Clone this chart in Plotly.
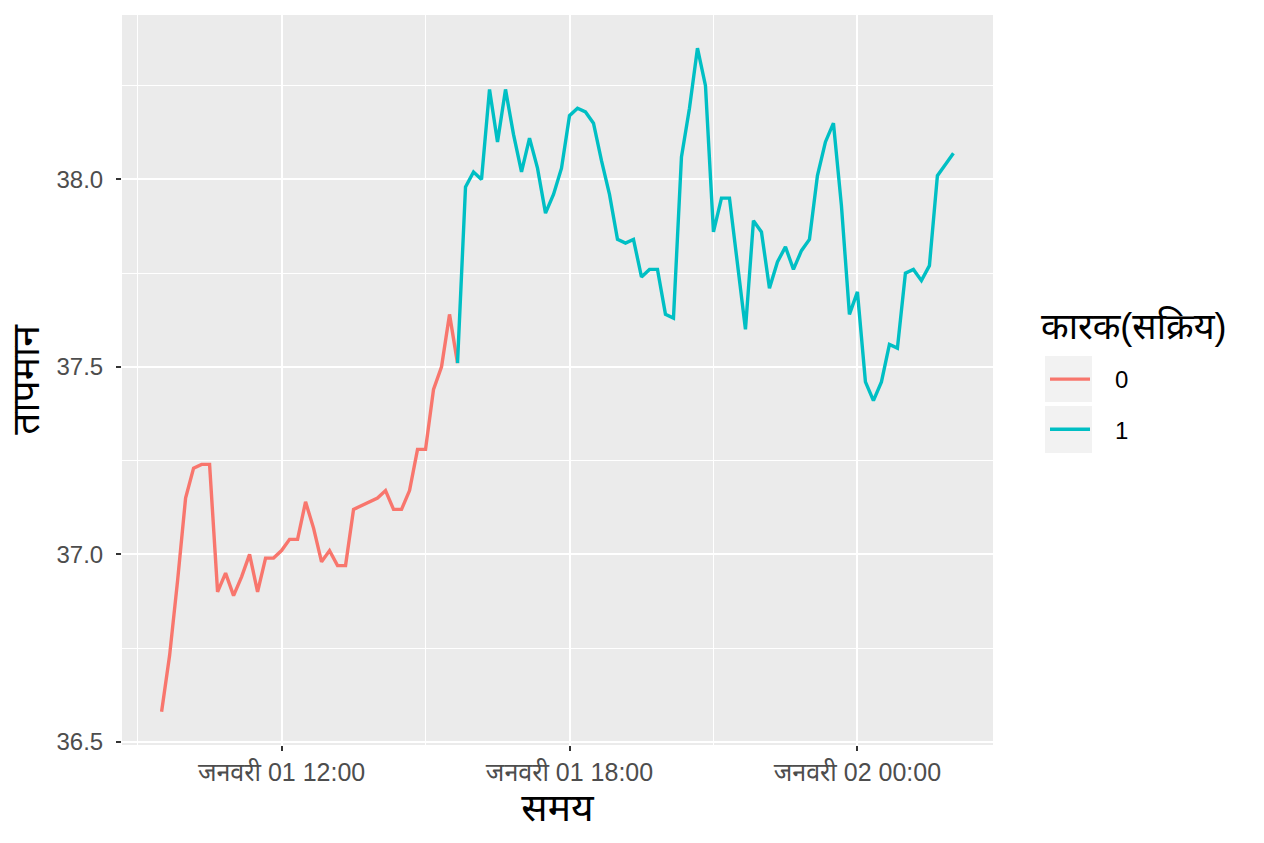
import pandas as pd
import plotly.graph_objects as go

# ---- data ----
start_time = "2024-01-01 09:30"
step = "10min"

# factor 0 (inactive): points 0..37
temp_0 = [36.58, 36.73, 36.93, 37.15, 37.23, 37.24, 37.24, 36.90, 36.95, 36.89,
          36.94, 37.00, 36.90, 36.99, 36.99, 37.01, 37.04, 37.04, 37.14, 37.07,
          36.98, 37.01, 36.97, 36.97, 37.12, 37.13, 37.14, 37.15, 37.17, 37.12,
          37.12, 37.17, 37.28, 37.28, 37.44, 37.50, 37.64, 37.51]
# factor 1 (active): points 37..99
temp_1 = [37.51, 37.98, 38.02, 38.00, 38.24, 38.10, 38.24, 38.12, 38.02, 38.11,
          38.03, 37.91, 37.96, 38.03, 38.17, 38.19, 38.18, 38.15, 38.05, 37.96,
          37.84, 37.83, 37.84, 37.74, 37.76, 37.76, 37.64, 37.63, 38.06, 38.19,
          38.35, 38.25, 37.86, 37.95, 37.95, 37.77, 37.60, 37.89, 37.86, 37.71,
          37.78, 37.82, 37.76, 37.81, 37.84, 38.01, 38.10, 38.15, 37.93, 37.64,
          37.70, 37.46, 37.41, 37.46, 37.56, 37.55, 37.75, 37.76, 37.73, 37.77,
          38.01, 38.04, 38.07]

x_tickvals = ["2024-01-01 12:00", "2024-01-01 18:00", "2024-01-02 00:00"]
x_ticktext = ["जनवरी 01 12:00", "जनवरी 01 18:00", "जनवरी 02 00:00"]
y_tickvals = [36.5, 37.0, 37.5, 38.0]
legend_names = ["0", "1"]
legend_title = "कारक(सक्रिय)"
x_title = "समय"
y_title = "तापमान"

times_all = pd.date_range(start_time, periods=len(temp_0) + len(temp_1) - 1, freq=step)
times_0 = times_all[:len(temp_0)]
times_1 = times_all[len(temp_0) - 1:]

FONT = "Liberation Sans, Arial, Noto Sans, sans-serif"
RED = "#F8766D"
CYAN = "#00BFC4"
GAP = "\u00a0\u00a0\u00a0"  # spacing between legend key and label

fig = go.Figure()
fig.add_trace(go.Scatter(x=times_0, y=temp_0, mode="lines", name=GAP + legend_names[0],
                         line=dict(color=RED, width=3.4), legendgroup="g0"))
fig.add_trace(go.Scatter(x=times_1, y=temp_1, mode="lines", name=GAP + legend_names[1],
                         line=dict(color=CYAN, width=3.4), legendgroup="g1"))

# ggplot-like 5% expansion
t0, t1 = times_all[0], times_all[-1]
pad = (t1 - t0) * 0.05
allv = temp_0 + temp_1
ymin, ymax = min(allv), max(allv)
ypad = (ymax - ymin) * 0.05

L, R, T, B = 122, 271, 15, 98
W, H = 1264, 843
pw, ph = W - L - R, H - T - B


def px(xp):
    return (xp - L) / pw


def py(yp):
    return (H - B - yp) / ph


fig.update_layout(
    width=W, height=H,
    margin=dict(l=L, r=R, t=T, b=B, pad=0),
    paper_bgcolor="white",
    plot_bgcolor="#EBEBEB",
    font=dict(family=FONT, color="#000000"),
    showlegend=True,
    legend=dict(
        x=px(1045), y=py(357), xanchor="left", yanchor="top",
        bgcolor="rgba(0,0,0,0)",
        font=dict(size=24, color="#000000"),
        tracegroupgap=16,
        itemwidth=40,
    ),
    annotations=[
        dict(text=legend_title, xref="paper", yref="paper", x=px(1039), y=py(326),
             xanchor="left", yanchor="middle", showarrow=False,
             font=dict(size=36, color="#000000", family=FONT)),
    ],
    shapes=[
        dict(type="rect", xref="paper", yref="paper",
             x0=px(1045), x1=px(1092), y0=py(402), y1=py(356),
             fillcolor="#F2F2F2", line=dict(width=0), layer="below"),
        dict(type="rect", xref="paper", yref="paper",
             x0=px(1045), x1=px(1092), y0=py(453), y1=py(406),
             fillcolor="#F2F2F2", line=dict(width=0), layer="below"),
    ],
)

fig.update_xaxes(
    range=[t0 - pad, t1 + pad],
    tickmode="array", tickvals=x_tickvals, ticktext=x_ticktext,
    ticks="outside", ticklen=5, tickwidth=2, tickcolor="#333333",
    tickfont=dict(size=25, color="#4D4D4D", family=FONT),
    ticklabelstandoff=0,
    showgrid=True, gridcolor="white", gridwidth=2,
    minor=dict(tickmode="linear", tick0="2024-01-01 00:00", dtick=3 * 3600 * 1000,
               showgrid=True, gridcolor="white", gridwidth=1, ticks=""),
    zeroline=False, showline=False,
    title=dict(text=x_title, font=dict(size=39, color="#000000", family=FONT), standoff=8),
)
fig.update_yaxes(
    range=[ymin - ypad, ymax + ypad],
    tickmode="array", tickvals=y_tickvals, tickformat=".1f",
    ticks="outside", ticklen=5, tickwidth=2, tickcolor="#333333",
    tickfont=dict(size=24, color="#4D4D4D", family=FONT),
    ticklabelstandoff=8,
    showgrid=True, gridcolor="white", gridwidth=2,
    minor=dict(tickmode="linear", tick0=36.25, dtick=0.25,
               showgrid=True, gridcolor="white", gridwidth=1, ticks=""),
    zeroline=False, showline=False,
    title=dict(text=y_title, font=dict(size=39, color="#000000", family=FONT), standoff=4),
)

fig.write_html("out.html", config={"displayModeBar": False},
               post_script="document.body.style.margin='0px';")
